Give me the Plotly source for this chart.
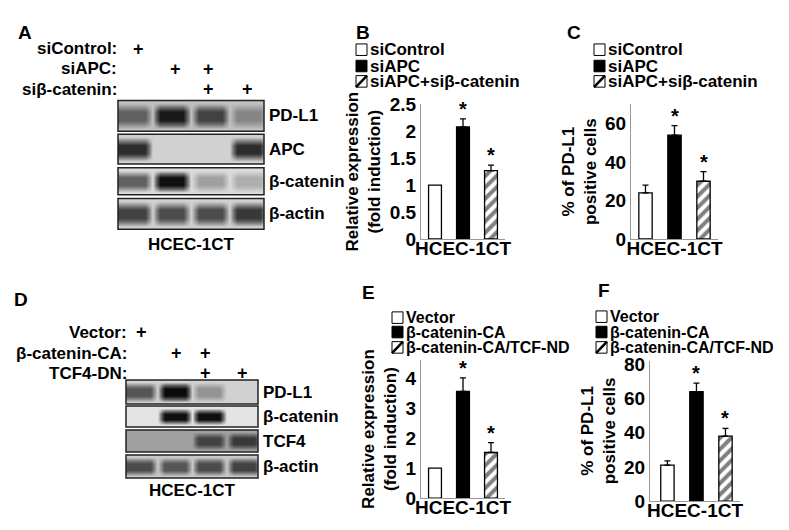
import plotly.graph_objects as go

W, H = 789, 530
F = "Liberation Sans"

# ---------- data ----------
groups_b = ["siControl", "siAPC", "siAPC+siβ-catenin"]
b_vals = [1.0, 2.08, 1.27]
b_err = [0.0, 0.15, 0.10]
c_vals = [24, 54, 30]
c_err = [4, 5, 5]
groups_e = ["Vector", "β-catenin-CA", "β-catenin-CA/TCF-ND"]
e_vals = [1.0, 3.55, 1.52]
e_err = [0.0, 0.45, 0.33]
f_vals = [21, 64, 38]
f_err = [2.5, 5, 4.5]
sig_b = ["", "*", "*"]
sig_c = ["", "*", "*"]
sig_e = ["", "*", "*"]
sig_f = ["", "*", "*"]

# blot band intensities per lane (0 = none, 1 = saturated)
blot_a_rows = ["PD-L1", "APC", "β-catenin", "β-actin"]
blot_a = [[0.55, 0.9, 0.7, 0.4],
          [0.8, 0.05, 0.03, 0.8],
          [0.55, 0.95, 0.3, 0.25],
          [0.7, 0.65, 0.65, 0.75]]
blot_a_bg = [0.18, 0.12, 0.08, 0.12]
blot_d_rows = ["PD-L1", "β-catenin", "TCF4", "β-actin"]
blot_d = [[0.6, 0.97, 0.35, 0.12],
          [0.03, 0.95, 0.95, 0.03],
          [0.18, 0.12, 0.7, 0.75],
          [0.65, 0.6, 0.65, 0.7]]
blot_d_bg = [0.12, 0.05, 0.3, 0.15]
a_cond = [("siControl:", [1, 0, 0, 0]), ("siAPC:", [0, 1, 1, 0]), ("siβ-catenin:", [0, 0, 1, 1])]
d_cond = [("Vector:", [1, 0, 0, 0]), ("β-catenin-CA:", [0, 1, 1, 0]), ("TCF4-DN:", [0, 0, 1, 1])]

fig = go.Figure()
layout = {}
ann = []
shapes = []
n_ax = [0]

def xd(px): return px / W
def yd(py): return 1 - py / H

def new_axes(x0, x1, y0, y1):
    n_ax[0] += 1
    i = n_ax[0]
    s = "" if i == 1 else str(i)
    layout["xaxis" + s] = dict(domain=[xd(x0), xd(x1)], anchor="y" + s)
    layout["yaxis" + s] = dict(domain=[yd(y1), yd(y0)], anchor="x" + s)
    return "x" + s, "y" + s, "xaxis" + s, "yaxis" + s

def text(x, y, t, size=17, xanchor="left", yanchor="middle"):
    ann.append(dict(x=xd(x), y=yd(y), xref="paper", yref="paper", text=t, showarrow=False,
                    xanchor=xanchor, yanchor=yanchor, font=dict(size=size, family=F, color="black", weight="bold")))

# ---------- blots ----------
def blot(rows, vals, bgs, x0, x1, ytops, ybots, lanes_px, conds, cond_y, label_x, cell_y):
    for r, name in enumerate(rows):
        xa, ya, xk, yk = new_axes(x0, x1, ytops[r], ybots[r])
        bg = bgs[r]
        mid = []
        for v in vals[r]:
            mid += [max(v, bg)] * 4 + [bg]
        z = [[bg] * len(mid), mid, mid, [bg] * len(mid)]
        fig.add_trace(go.Heatmap(z=z, xaxis=xa, yaxis=ya, zmin=0, zmax=1, zsmooth="best", showscale=False,
                                 colorscale=[[0, "#f2f2f2"], [0.5, "#6a6a6a"], [1, "#050505"]], hoverinfo="skip"))
        layout[xk].update(visible=False, range=[-0.5, len(mid) - 1.5])
        layout[yk].update(visible=False, range=[-0.3, 3.3])
        shapes.append(dict(type="rect", xref="paper", yref="paper", x0=xd(x0), x1=xd(x1),
                           y0=yd(ybots[r]), y1=yd(ytops[r]), line=dict(color="#222", width=1.5)))
        text(x1 + 3, (ytops[r] + ybots[r]) / 2, name, 17)
    for k, (lab, plus) in enumerate(conds):
        text(label_x, cond_y[k], lab, 17, "right")
        for j, p in enumerate(plus):
            if p:
                text(lanes_px[j], cond_y[k], "+", 18, "center")
    text((x0 + x1) / 2, cell_y, "HCEC-1CT", 17, "center")

blot(blot_a_rows, blot_a, blot_a_bg, 110, 256, [86, 121, 156, 188], [118, 152, 184, 220],
     [130, 167, 200, 239], a_cond, [32, 53, 74], 111, 236)
blot(blot_d_rows, blot_d, blot_d_bg, 118, 250, [377, 404, 429, 455], [402, 426, 452, 479],
     [133, 168, 198, 235], d_cond, [327, 349, 370], 121, 492)

# ---------- bar charts ----------
def bars(vals, errs, sig, x0, x1, y0, y1, yr, dtick, xr, ytitle):
    xa, ya, xk, yk = new_axes(x0, x1, y0, y1)
    colors = ["white", "black", "white"]
    pats = ["", "", "/"]
    for i in range(3):
        fig.add_trace(go.Bar(x=[i], y=[vals[i]], xaxis=xa, yaxis=ya, width=0.46, showlegend=False,
                             marker=dict(color=colors[i], line=dict(color="black", width=1.3),
                                         pattern=dict(shape=pats[i], fgcolor="black", bgcolor="white", size=8, solidity=0.5)),
                             error_y=dict(type="data", array=[errs[i]], arrayminus=[0], symmetric=False,
                                          color="black", thickness=1.3, width=3, visible=errs[i] > 0)))
        if sig[i]:
            ann.append(dict(x=i, y=vals[i] + errs[i], xref=xa, yref=ya, text="*", showarrow=False,
                            yanchor="bottom", yshift=-3, font=dict(size=20, family=F, weight="bold")))
    layout[xk].update(range=xr, showticklabels=False, ticks="", showline=True, linecolor="#999", linewidth=1,
                      showgrid=False, zeroline=False,
                      title=dict(text="HCEC-1CT", standoff=2, font=dict(size=19, family=F, weight="bold")))
    layout[yk].update(range=yr, dtick=dtick, showline=True, linecolor="#999", linewidth=1, showgrid=False,
                      zeroline=False, ticks="", tickfont=dict(size=19, family=F, weight="bold"),
                      title=dict(text=ytitle, standoff=4, font=dict(size=17, family=F, weight="bold")))

bars(b_vals, b_err, sig_b, 413, 497, 90, 230, [0, 2.5], 0.5, [-0.5, 2.5], "Relative expression<br>(fold induction)")
bars(c_vals, c_err, sig_c, 623, 710, 90, 230, [0, 70], 20, [-0.5, 2.5], "% of PD-L1<br>positive cells")
bars(e_vals, e_err, sig_e, 413, 497, 356, 500, [0, 4.6], 1, [-0.5, 2.5], "Relative expression<br>(fold induction)")
bars(f_vals, f_err, sig_f, 642, 732, 357, 503, [0, 82], 20, [-0.6, 2.5], "% of PD-L1<br>positive cells")

# ---------- legends ----------
def legend(names, bx, ys, size):
    for k, nm in enumerate(names):
        y = ys[k]
        shapes.append(dict(type="rect", xref="paper", yref="paper", x0=xd(bx), x1=xd(bx + 11),
                           y0=yd(y + 6), y1=yd(y - 6), line=dict(color="black", width=1),
                           fillcolor="black" if k == 1 else "white"))
        if k == 2:
            shapes.append(dict(type="line", xref="paper", yref="paper", x0=xd(bx), x1=xd(bx + 11),
                               y0=yd(y + 6), y1=yd(y - 6), line=dict(color="black", width=2.5)))
        text(bx + 12, y, nm, size)

legend(groups_b, 348, [33, 50, 66], 17)
legend(groups_b, 586, [33, 50, 66], 17)
legend(groups_e, 384, [312, 327, 343], 16)
legend(groups_e, 588, [311, 327, 343], 16)

for t, x, y in [("A", 8, 15), ("B", 346, 15), ("C", 557, 15), ("D", 4, 293), ("E", 352, 286), ("F", 588, 284)]:
    text(x, y, t, 19)

fig.update_layout(width=W, height=H, margin=dict(l=0, r=0, t=0, b=0), paper_bgcolor="white",
                  plot_bgcolor="white", annotations=ann, shapes=shapes, showlegend=False,
                  font=dict(family=F, color="black"), **layout)
fig.write_html("out.html")
